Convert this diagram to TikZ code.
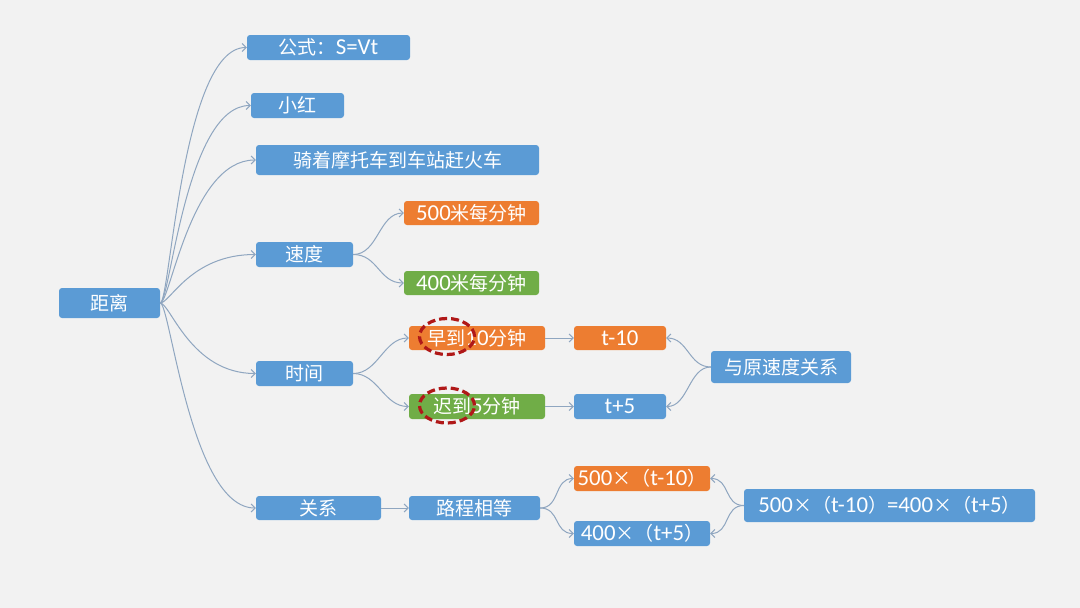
\documentclass[tikz,border=0pt]{standalone}
\usepackage{fontspec}
\setmainfont{Carlito}[Scale=1.2]
\newfontfamily\cjk{Noto Sans CJK SC}
\usetikzlibrary{arrows.meta,shapes.geometric}
\definecolor{bgc}{HTML}{F2F2F2}
\definecolor{bluec}{HTML}{5B9BD5}
\definecolor{orangec}{HTML}{ED7D31}
\definecolor{greenc}{HTML}{70AD47}
\definecolor{linec}{HTML}{8FA6C0}
\definecolor{redc}{HTML}{B01818}
\tikzset{
  mbox/.style={rectangle, rounded corners=3pt, inner sep=0pt, text=white,
    font=\fontsize{19}{22}\selectfont, align=center},
  bluebox/.style={mbox, fill=bluec},
  orangebox/.style={mbox, fill=orangec},
  greenbox/.style={mbox, fill=greenc},
  conn/.style={draw=linec, line width=1pt, -{Straight Barb[length=4pt,width=8pt]}},
  redring/.style={ellipse, draw=redc, line width=3.2pt, dash pattern=on 8pt off 4pt, inner sep=0pt}
}
\begin{document}
\begin{tikzpicture}[x=1pt,y=-1pt]
\fill[bgc] (0,0) rectangle (1080,608);
\useasboundingbox (0,0) rectangle (1080,608);

\node[bluebox, minimum width=101pt, minimum height=30pt] (dist) at (109.5,303) {\cjk 距离};
\node[bluebox, minimum width=163pt, minimum height=25pt] (f) at (328.5,47.5) {{\cjk 公式：}S=Vt};
\node[bluebox, minimum width=93pt, minimum height=25pt] (xh) at (297.5,105.5) {\cjk 小红};
\node[bluebox, minimum width=283pt, minimum height=30pt] (qz) at (397.5,160) {\cjk 骑着摩托车到车站赶火车};
\node[bluebox, minimum width=97pt, minimum height=25pt] (sd) at (304.5,254.5) {\cjk 速度};
\node[orangebox, minimum width=135pt, minimum height=24pt] (v500) at (471.5,213) {500{\cjk 米每分钟}};
\node[greenbox, minimum width=135pt, minimum height=24pt] (v400) at (471.5,283) {400{\cjk 米每分钟}};
\node[bluebox, minimum width=97pt, minimum height=25pt] (sj) at (304.5,373.5) {\cjk 时间};
\node[orangebox, minimum width=136pt, minimum height=24pt] (zd) at (477,338) {{\cjk 早到}10{\cjk 分钟}};
\node[greenbox, minimum width=136pt, minimum height=25pt] (cd) at (477,406.5) {{\cjk 迟到}5{\cjk 分钟}};
\node[orangebox, minimum width=92pt, minimum height=24pt] (t10) at (620,338) {t-10};
\node[bluebox, minimum width=92pt, minimum height=25pt] (t5) at (620,406.5) {t+5};
\node[bluebox, minimum width=140pt, minimum height=32pt] (yl) at (781,367) {\cjk 与原速度关系};
\node[bluebox, minimum width=125pt, minimum height=24pt] (gx) at (318.5,508) {\cjk 关系};
\node[bluebox, minimum width=131pt, minimum height=24pt] (lc) at (474.5,508) {\cjk 路程相等};
\node[orangebox, minimum width=136pt, minimum height=25pt] (e500) at (642,478.5) {500{\cjk ×（}t-10{\cjk ）}};
\node[bluebox, minimum width=136pt, minimum height=25pt] (e400) at (642,533.5) {400{\cjk ×（}t+5{\cjk ）}};
\node[bluebox, minimum width=291pt, minimum height=33pt] (eq) at (889.5,505.5) {500{\cjk ×（}t-10{\cjk ）}=400{\cjk ×（}t+5{\cjk ）}};

\draw[conn] (dist.east) .. controls +(10,0) and +(-65,0) .. (f.west);
\draw[conn] (dist.east) .. controls +(10,0) and +(-65,0) .. (xh.west);
\draw[conn] (dist.east) .. controls +(10,0) and +(-65,0) .. (qz.west);
\draw[conn] (dist.east) .. controls +(10,0) and +(-65,0) .. (sd.west);
\draw[conn] (dist.east) .. controls +(10,0) and +(-65,0) .. (sj.west);
\draw[conn] (dist.east) .. controls +(10,0) and +(-65,0) .. (gx.west);

\draw[conn] (sd.east) .. controls +(25,0) and +(-25,0) .. (v500.west);
\draw[conn] (sd.east) .. controls +(25,0) and +(-25,0) .. (v400.west);
\draw[conn] (sj.east) .. controls +(25,0) and +(-25,0) .. (zd.west);
\draw[conn] (sj.east) .. controls +(25,0) and +(-25,0) .. (cd.west);
\draw[conn] (zd.east) -- (t10.west);
\draw[conn] (cd.east) -- (t5.west);
\draw[conn] (yl.west) .. controls +(-22,0) and +(22,0) .. (t10.east);
\draw[conn] (yl.west) .. controls +(-22,0) and +(22,0) .. (t5.east);
\draw[conn] (gx.east) -- (lc.west);
\draw[conn] (lc.east) .. controls +(20,0) and +(-20,0) .. (e500.west);
\draw[conn] (lc.east) .. controls +(20,0) and +(-20,0) .. (e400.west);
\draw[conn] (eq.west) .. controls +(-20,0) and +(20,0) .. (e500.east);
\draw[conn] (eq.west) .. controls +(-20,0) and +(20,0) .. (e400.east);

\node[redring, minimum width=55pt, minimum height=36pt] (r1) at (447,336.5) {};
\node[redring, minimum width=55pt, minimum height=35pt] (r2) at (447,405.5) {};
\end{tikzpicture}
\end{document}
